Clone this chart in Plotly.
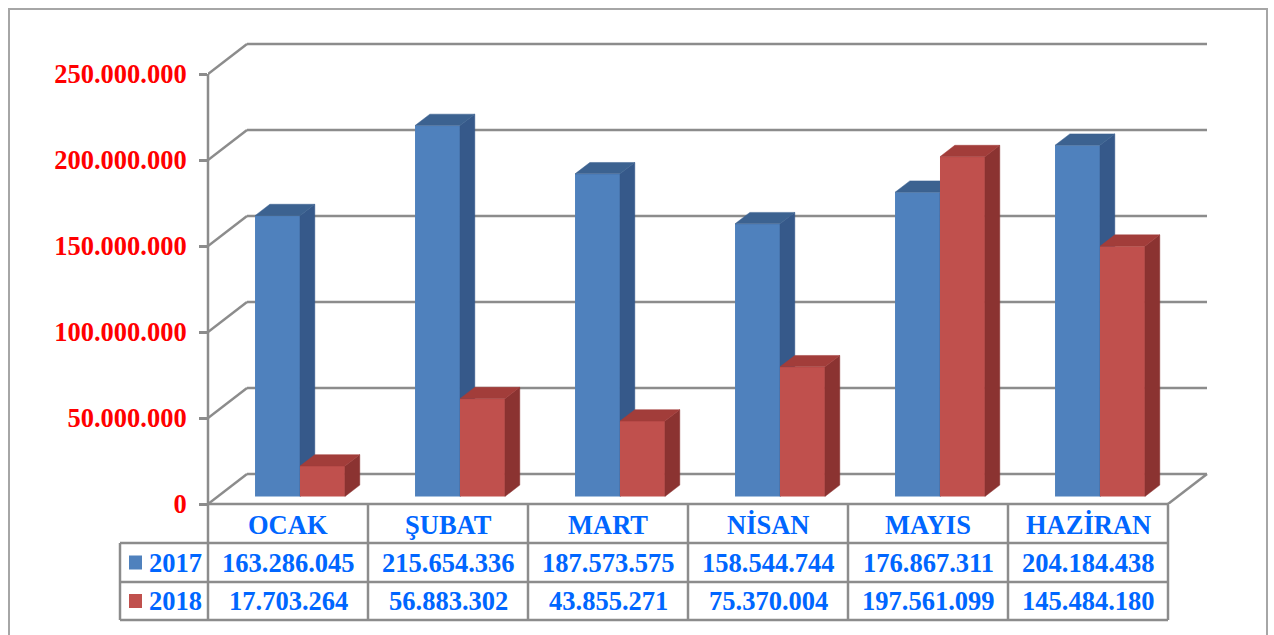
import plotly.graph_objects as go

# ---------------- data ----------------
CATEGORIES = ["OCAK", "ŞUBAT", "MART", "NİSAN", "MAYIS", "HAZİRAN"]
SERIES = ["2017", "2018"]
VALUES_2017 = [163286045, 215654336, 187573575, 158544744, 176867311, 204184438]
VALUES_2018 = [17703264, 56883302, 43855271, 75370004, 197561099, 145484180]
TICK_VALUES = [0, 50_000_000, 100_000_000, 150_000_000, 200_000_000, 250_000_000]

# ---------------- styling / geometry ----------------
W_PX, H_PX = 1274, 635
M_L, M_R, M_T, M_B = 208, 66, 40, 131
X_MIN, X_MAX = -0.5, 5.75
PLOT_W = W_PX - M_L - M_R
PLOT_H = H_PX - M_T - M_B
PX_PER_X = PLOT_W / (X_MAX - X_MIN)          # 160 px per category
PX_PER_50M = 86.0
Y_MAX = PLOT_H / PX_PER_50M * 50_000_000

DX = 39 / PX_PER_X                            # depth offset (x units)
DY = 30 / PX_PER_50M * 50_000_000             # depth offset (y units)
F0 = 0.25                                     # depth of bar front face
BD = 0.38                                     # bar depth fraction
BAR_W = 0.281
OFFSETS = [-0.267, 0.014]

FRONT = ["#4F81BD", "#C0504D"]
SIDE = ["#36598A", "#8B3331"]
TOP = ["#3C6290", "#A23D3A"]
GRID = "#8C8C8C"
TXT_BLUE = "#0066FF"
FONT = "Liberation Serif"
FONT_SIZE = 26.5


def px_x(px):
    return (px - M_L) / PLOT_W


def px_y(py):
    return (H_PX - M_B - py) / PLOT_H


def fmt(v):
    return f"{v:,}".replace(",", ".")


fig = go.Figure()

for s, values in enumerate([VALUES_2017, VALUES_2018]):
    xa = "x" if s == 0 else "x2"
    ya = "y" if s == 0 else "y2"
    base = F0 * DY
    xs = [i + F0 * DX for i in range(len(CATEGORIES))]
    fig.add_trace(go.Bar(
        x=xs, y=values, base=base, width=BAR_W, offset=OFFSETS[s],
        marker=dict(color=FRONT[s], line=dict(width=0)),
        name=SERIES[s], xaxis=xa, yaxis=ya, showlegend=False,
    ))
    side_x, side_y, top_x, top_y = [], [], [], []
    for i, v in enumerate(values):
        xl = xs[i] + OFFSETS[s]
        xr = xl + BAR_W
        t = base + v
        side_x += [xr, xr + BD * DX, xr + BD * DX, xr, xr, None]
        side_y += [base, base + BD * DY, t + BD * DY, t, base, None]
        top_x += [xl, xr, xr + BD * DX, xl + BD * DX, xl, None]
        top_y += [t, t, t + BD * DY, t + BD * DY, t, None]
    fig.add_trace(go.Scatter(
        x=side_x, y=side_y, fill="toself", fillcolor=SIDE[s], mode="lines",
        line=dict(color=SIDE[s], width=0.5), xaxis=xa, yaxis=ya,
        showlegend=False, hoverinfo="skip",
    ))
    fig.add_trace(go.Scatter(
        x=top_x, y=top_y, fill="toself", fillcolor=TOP[s], mode="lines",
        line=dict(color=TOP[s], width=0.5), xaxis=xa, yaxis=ya,
        showlegend=False, hoverinfo="skip",
    ))

shapes = []
line_style = dict(color=GRID, width=2.5)
n = len(CATEGORIES)
# walls & gridlines (behind bars)
for v in TICK_VALUES:
    shapes.append(dict(type="line", xref="x", yref="y", layer="below",
                       x0=X_MIN, y0=v, x1=X_MIN + DX, y1=v + DY, line=line_style))
    shapes.append(dict(type="line", xref="x", yref="y", layer="below",
                       x0=X_MIN + DX, y0=v + DY, x1=X_MIN + n + DX, y1=v + DY,
                       line=line_style))
shapes.append(dict(type="line", xref="x", yref="y", layer="below",
                   x0=X_MIN + n + DX, y0=DY, x1=X_MIN + n, y1=0, line=line_style))
# value axis line
shapes.append(dict(type="line", xref="paper", yref="y", layer="below",
                   x0=0, y0=0, x1=0, y1=TICK_VALUES[-1], line=line_style))

# data table grid
col_px = [M_L + k * PX_PER_X for k in range(n + 1)]
leg_left = 120
row_px = [504, 543, 582, 620]
shapes.append(dict(type="line", xref="paper", yref="paper",
                   x0=px_x(col_px[0]), x1=px_x(col_px[-1]),
                   y0=px_y(row_px[0]), y1=px_y(row_px[0]), line=line_style))
for r in row_px[1:]:
    shapes.append(dict(type="line", xref="paper", yref="paper",
                       x0=px_x(leg_left), x1=px_x(col_px[-1]),
                       y0=px_y(r), y1=px_y(r), line=line_style))
shapes.append(dict(type="line", xref="paper", yref="paper",
                   x0=px_x(leg_left), x1=px_x(leg_left),
                   y0=px_y(row_px[1]), y1=px_y(row_px[3]), line=line_style))
for c in col_px:
    shapes.append(dict(type="line", xref="paper", yref="paper",
                       x0=px_x(c), x1=px_x(c),
                       y0=px_y(row_px[0]), y1=px_y(row_px[3]), line=line_style))

# legend keys
for s in range(2):
    yc = (row_px[s + 1] + row_px[s + 2]) / 2
    shapes.append(dict(type="rect", xref="paper", yref="paper",
                       x0=px_x(129), x1=px_x(142), y0=px_y(yc - 7), y1=px_y(yc + 7),
                       fillcolor=FRONT[s], line=dict(width=0)))

# outer chart frame
shapes.append(dict(type="rect", xref="paper", yref="paper",
                   x0=px_x(9), x1=px_x(1267), y0=px_y(700), y1=px_y(9),
                   line=dict(color="#A6A6A6", width=2), fillcolor="rgba(0,0,0,0)"))

cell_font = dict(family=FONT, size=FONT_SIZE, color=TXT_BLUE, weight="bold")
annotations = []
hdr_y = px_y((row_px[0] + row_px[1]) / 2 + 1)
for i, c in enumerate(CATEGORIES):
    annotations.append(dict(x=i, y=hdr_y, xref="x", yref="paper", text=c,
                            showarrow=False, font=cell_font,
                            xanchor="center", yanchor="middle"))
for s, values in enumerate([VALUES_2017, VALUES_2018]):
    ry = px_y((row_px[s + 1] + row_px[s + 2]) / 2)
    annotations.append(dict(x=px_x(147), y=ry, xref="paper", yref="paper",
                            text=SERIES[s], showarrow=False, font=cell_font,
                            xanchor="left", yanchor="middle"))
    for i, v in enumerate(values):
        annotations.append(dict(x=i, y=ry, xref="x", yref="paper", text=fmt(v),
                                showarrow=False, font=cell_font,
                                xanchor="center", yanchor="middle"))

fig.update_layout(
    width=W_PX, height=H_PX,
    margin=dict(l=M_L, r=M_R, t=M_T, b=M_B, pad=0),
    paper_bgcolor="white", plot_bgcolor="white",
    separators=",.",
    showlegend=False,
    barmode="overlay",
    hovermode=False,
    xaxis=dict(range=[X_MIN, X_MAX], visible=False, fixedrange=True),
    yaxis=dict(range=[0, Y_MAX], tickvals=TICK_VALUES, tickformat=",d",
               showgrid=False, zeroline=False, showline=False,
               ticks="outside", ticklen=8, tickwidth=2.5, tickcolor=GRID,
               ticklabelstandoff=7,
               tickfont=dict(family=FONT, size=FONT_SIZE, color="#FF0000", weight="bold"),
               fixedrange=True),
    xaxis2=dict(range=[X_MIN, X_MAX], visible=False, overlaying="x", anchor="y2",
                fixedrange=True),
    yaxis2=dict(range=[0, Y_MAX], visible=False, overlaying="y", anchor="x2",
                fixedrange=True),
    shapes=shapes,
    annotations=annotations,
)

fig.write_html("out.html", config={"displayModeBar": False},
               post_script="document.body.style.margin='0';")
